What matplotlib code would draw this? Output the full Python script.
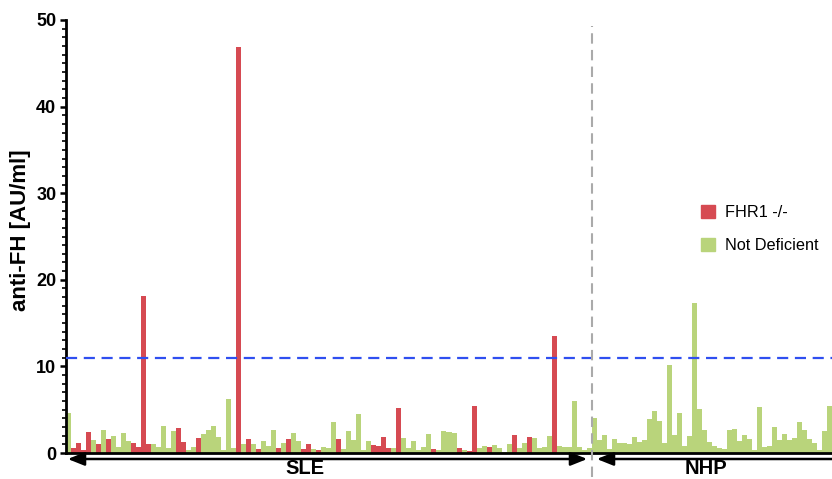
import matplotlib
matplotlib.use("Agg")
import matplotlib.pyplot as plt
from matplotlib.patches import FancyArrowPatch, Patch
import numpy as np

plt.rcParams['font.family'] = ['Liberation Sans', 'DejaVu Sans']

# ---- data ----
sle_values = [4.65, 0.6, 1.15, 0.4, 2.4, 1.45, 1.0, 2.6, 1.6, 2.0,
              0.7, 2.35, 1.35, 1.1, 0.75, 18.1, 1.05, 1.0, 0.65, 3.15,
              0.6, 2.5, 2.9, 1.25, 0.35, 0.75, 1.7, 2.15, 2.6, 3.1,
              1.85, 0.4, 6.2, 0.55, 46.9, 1.0, 1.6, 1.0, 0.5, 1.35,
              0.8, 2.6, 0.55, 1.1, 1.6, 2.3, 1.35, 0.45, 1.0, 0.45,
              0.3, 0.65, 0.6, 3.6, 1.6, 0.5, 2.5, 1.55, 4.55, 0.3,
              1.4, 0.9, 0.85, 1.8, 0.6, 0.6, 5.15, 1.7, 0.6, 1.35,
              0.4, 0.7, 2.25, 0.45, 0.3, 2.55, 2.4, 2.35, 0.6, 0.4,
              0.25, 5.45, 0.6, 0.85, 0.75, 0.9, 0.55, 0.1, 1.0, 2.1,
              0.55, 1.2, 1.9, 1.75, 0.6, 0.75, 1.95, 13.5, 0.8, 0.75,
              0.7, 5.95, 0.7, 0.3, 0.6]
sle_groups = "GRRRRGRGRG" \
             "GGGRRRRGGG" \
             "GGRRGGRGGG" \
             "GGGGRGRGRG" \
             "GGRGRGGRRG" \
             "RGGGRGGGGG" \
             "GRRRRGRGGG" \
             "GGGRGGGGRG" \
             "RRGGRGGGGR" \
             "GGRGGGGRGG" \
             "GGGGG"
nhp_values = [4.0, 1.55, 2.1, 0.45, 1.65, 1.2, 1.1, 1.0, 1.9, 1.25,
              1.55, 3.9, 4.9, 3.75, 1.2, 10.15, 2.1, 4.65, 0.85, 2.0,
              17.3, 5.1, 2.7, 1.25, 0.8, 0.55, 0.5, 2.6, 2.75, 1.4,
              2.1, 1.6, 0.35, 5.35, 0.7, 0.85, 3.0, 1.45, 2.2, 1.55,
              1.75, 3.6, 2.6, 1.6, 1.15, 0.3, 2.55, 5.4]
threshold = 11
group_labels = ["SLE", "NHP"]
legend_labels = ["FHR1 -/-", "Not Deficient"]
y_ticks = [0, 10, 20, 30, 40, 50]

RED = "#d64a52"
GREEN = "#b9d47b"

values = sle_values + nhp_values
groups = list(sle_groups) + ["G"] * len(nhp_values)
colors = [RED if g == "R" else GREEN for g in groups]
x = np.arange(len(values))
n_sle = len(sle_values)

fig = plt.figure(figsize=(8.32, 4.79), dpi=100)
ax = fig.add_axes([66/832, 1 - 453/479, 766/832, 433/479])

ax.bar(x, values, width=1.0, color=colors, edgecolor='none', linewidth=0)

ax.set_xlim(-0.5, len(values) - 0.5)
ax.set_ylim(0, 50)

ax.axhline(threshold, color="#2f4ff0", lw=1.6, dashes=(5, 3), zorder=3)
ax.axvline(n_sle - 0.45, ymin=-0.055, ymax=0.985, color="#aaaaaa", lw=1.5,
           dashes=(5, 3), clip_on=False, zorder=3)

for s in ["top", "right"]:
    ax.spines[s].set_visible(False)
for s in ["left", "bottom"]:
    ax.spines[s].set_linewidth(2.0)
    ax.spines[s].set_color("black")

ax.set_xticks([])
ax.set_yticks(y_ticks)
ax.set_yticks(np.arange(0, 51, 1), minor=True)
ax.tick_params(axis='y', which='major', length=4.5, width=1.8, labelsize=13, pad=2.5)
ax.tick_params(axis='y', which='minor', length=3, width=1.2)
for lab in ax.get_yticklabels():
    lab.set_fontweight('bold')

ax.set_ylabel("anti-FH [AU/ml]", fontsize=16, fontweight='bold')
ax.yaxis.set_label_coords(-0.046, 0.515)

# group arrows below the axis
def fx(px):
    return px / 832
def fy(py):
    return 1 - py / 479

arr_y = fy(459)
a1 = FancyArrowPatch((fx(65), arr_y), (fx(590), arr_y), transform=fig.transFigure,
                     arrowstyle='<|-|>,head_length=1.0,head_width=0.4',
                     mutation_scale=10, color='black', lw=1.8)
a2 = FancyArrowPatch((fx(594), arr_y), (fx(845), arr_y), transform=fig.transFigure,
                     arrowstyle='<|-,head_length=1.0,head_width=0.4',
                     mutation_scale=10, color='black', lw=1.8)
fig.patches.extend([a1, a2])

fig.text(fx(305), fy(468), group_labels[0], ha='center', va='center',
         fontsize=14.5, fontweight='bold')
fig.text(fx(706), fy(468), group_labels[1], ha='center', va='center',
         fontsize=14.5, fontweight='bold')

handles = [Patch(color=RED), Patch(color=GREEN)]
fig.legend(handles, legend_labels, loc='center left',
           bbox_to_anchor=(fx(701), fy(229)), bbox_transform=fig.transFigure,
           frameon=False, fontsize=11.7, handlelength=0.85, handleheight=0.85,
           labelspacing=1.1, handletextpad=0.6, borderpad=0, borderaxespad=0)

fig.savefig("out.png", dpi=100)
